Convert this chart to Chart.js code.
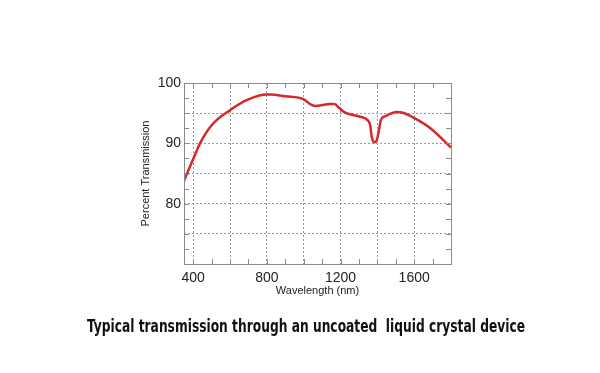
<!DOCTYPE html>
<html>
<head>
<meta charset="utf-8">
<script src="https://cdn.jsdelivr.net/npm/chart.js@4"></script>
<style>
  html, body { margin: 0; padding: 0; background: #fff; }
  #wrap { width: 600px; height: 373px; }
</style>
</head>
<body>
<div id="wrap"><canvas id="chart" width="600" height="373"></canvas></div>
<script>
// wavelength (nm) and transmission (%)
const wavelength = [350, 400, 437, 500, 600, 696, 800, 820, 900, 1000, 1040, 1062, 1144, 1167, 1195, 1225, 1307, 1347, 1361, 1370, 1383, 1394, 1407, 1419, 1443, 1506, 1534, 1594, 1688, 1800];
const transmission = [83.8, 87.4, 90.0, 93.0, 95.5, 97.25, 98.1, 98.1, 97.8, 97.3, 96.4, 96.2, 96.5, 96.5, 95.8, 95.1, 94.4, 93.85, 93.0, 91.0, 90.2, 90.3, 91.9, 93.85, 94.5, 95.2, 95.1, 94.3, 92.5, 89.3];
const xLabels = [400, 800, 1200, 1600];
const yLabels = [80, 90, 100];
const caption = 'Typical transmission through an uncoated  liquid crystal device';

const frameColor = '#8a8a8a';

// frame, inward tick marks and the caption
const framePlugin = {
  id: 'frame',
  afterDraw(chart) {
    const ctx = chart.ctx, a = chart.chartArea;
    const xs = chart.scales.x, ys = chart.scales.y;
    ctx.save();
    ctx.strokeStyle = frameColor;
    ctx.lineWidth = 1;
    ctx.beginPath();
    xs.ticks.forEach(t => {
      const px = Math.round(xs.getPixelForValue(t.value)) + 0.5;
      ctx.moveTo(px, a.top); ctx.lineTo(px, a.top + 5);
      ctx.moveTo(px, a.bottom); ctx.lineTo(px, a.bottom - 5);
    });
    ys.ticks.forEach(t => {
      const py = Math.round(ys.getPixelForValue(t.value)) + 0.5;
      ctx.moveTo(a.left, py); ctx.lineTo(a.left + 5, py);
      ctx.moveTo(a.right, py); ctx.lineTo(a.right - 5, py);
    });
    ctx.stroke();
    ctx.strokeRect(Math.round(a.left) + 0.5, Math.round(a.top) + 0.5,
                   Math.round(a.right - a.left), Math.round(a.bottom - a.top));

    ctx.fillStyle = '#111';
    ctx.font = 'bold 18px "Liberation Sans Narrow", "DejaVu Sans Condensed", sans-serif';
    ctx.textAlign = 'center';
    ctx.textBaseline = 'middle';
    ctx.fillText(caption, 306, 327, 438);
    ctx.restore();
  }
};

const points = wavelength.map((w, i) => ({ x: w, y: transmission[i] }));

new Chart(document.getElementById('chart'), {
  type: 'line',
  data: {
    datasets: [{
      data: points,
      borderColor: '#d42a2a',
      borderWidth: 2.5,
      pointRadius: 0,
      cubicInterpolationMode: 'monotone',
      fill: false
    }]
  },
  options: {
    responsive: false,
    animation: false,
    layout: { padding: { left: 139, right: 149, top: 83, bottom: 75 } },
    plugins: { legend: { display: false }, tooltip: { enabled: false } },
    scales: {
      x: {
        type: 'linear',
        min: 350,
        max: 1800,
        afterFit: s => { s.height = 34; },
        afterBuildTicks: s => {
          const t = [];
          for (let v = 400; v <= 1800; v += 100) t.push({ value: v });
          s.ticks = t;
        },
        ticks: {
          autoSkip: false,
          maxRotation: 0,
          padding: 6,
          color: '#222',
          font: { family: 'Liberation Sans', size: 14 },
          callback: v => xLabels.includes(v) ? String(v) : ''
        },
        grid: {
          drawTicks: false,
          color: c => (c.tick && c.tick.value % 200 === 0) ? '#999' : 'rgba(0,0,0,0)',
          lineWidth: 1
        },
        border: { display: false, dash: [2, 2] },
        title: {
          display: true,
          text: 'Wavelength (nm)',
          color: '#222',
          padding: 0,
          font: { family: 'Liberation Sans', size: 11 }
        }
      },
      y: {
        min: 70,
        max: 100,
        afterFit: s => { s.width = 45; },
        ticks: {
          stepSize: 2.5,
          autoSkip: false,
          padding: 3,
          color: '#222',
          font: { family: 'Liberation Sans', size: 14 },
          callback: v => yLabels.includes(v) ? String(v) : ''
        },
        grid: {
          drawTicks: false,
          color: c => (c.tick && c.tick.value % 5 === 0) ? '#999' : 'rgba(0,0,0,0)',
          lineWidth: 1
        },
        border: { display: false, dash: [2, 2] },
        title: {
          display: true,
          text: 'Percent Transmission',
          color: '#222',
          padding: 0,
          font: { family: 'Liberation Sans', size: 11 }
        }
      }
    }
  },
  plugins: [framePlugin]
});
</script>
</body>
</html>
